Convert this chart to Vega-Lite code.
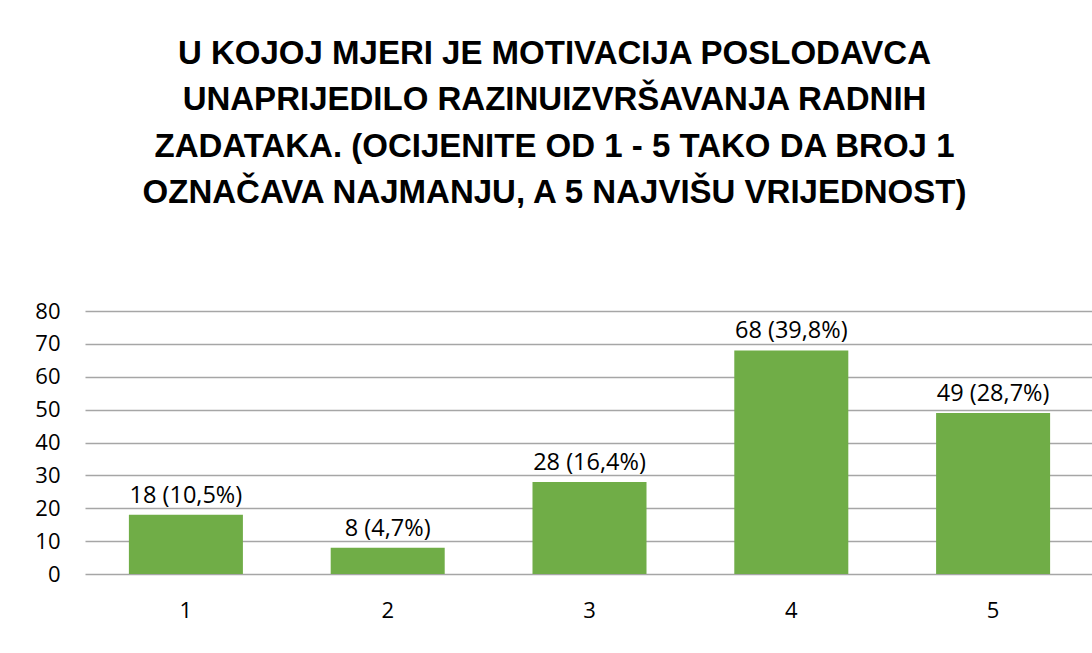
{
  "$schema": "https://vega.github.io/schema/vega-lite/v6.json",
  "autosize": {"type": "none"},
  "padding": {"left": 85, "top": 311, "right": 0, "bottom": 79},
  "width": 1009,
  "height": 263,
  "background": "white",
  "title": {
    "text": ["U KOJOJ MJERI JE MOTIVACIJA POSLODAVCA", "UNAPRIJEDILO RAZINUIZVRŠAVANJA RADNIH", "ZADATAKA. (OCIJENITE OD 1 - 5 TAKO DA BROJ 1", "OZNAČAVA NAJMANJU, A 5 NAJVIŠU VRIJEDNOST)"],
    "anchor": "middle",
    "frame": "group",
    "dx": -35,
    "offset": 90,
    "font": "Liberation Sans",
    "fontSize": 33,
    "fontWeight": "bold",
    "lineHeight": 46.5,
    "color": "#000000"
  },
  "data": {
    "values": [
      {"ocjena": "1", "broj": 18, "oznaka": "18 (10,5%)"},
      {"ocjena": "2", "broj": 8, "oznaka": "8 (4,7%)"},
      {"ocjena": "3", "broj": 28, "oznaka": "28 (16,4%)"},
      {"ocjena": "4", "broj": 68, "oznaka": "68 (39,8%)"},
      {"ocjena": "5", "broj": 49, "oznaka": "49 (28,7%)"}
    ]
  },
  "encoding": {
    "x": {
      "field": "ocjena",
      "type": "ordinal",
      "scale": {"paddingInner": 0.435, "paddingOuter": 0.2175},
      "axis": {
        "title": null,
        "labelAngle": 0,
        "labelFont": "Open Sans",
        "labelFontSize": 22,
        "labelColor": "#000000",
        "labelPadding": 26,
        "ticks": false,
        "domain": false
      }
    },
    "y": {
      "field": "broj",
      "type": "quantitative",
      "scale": {"domain": [0, 80]},
      "axis": {
        "title": null,
        "values": [0, 10, 20, 30, 40, 50, 60, 70, 80],
        "labelFont": "Open Sans",
        "labelFontSize": 22,
        "labelColor": "#000000",
        "labelPadding": 25,
        "ticks": false,
        "domain": false,
        "grid": true,
        "gridColor": "#a6a6a6",
        "gridWidth": 1.3
      }
    }
  },
  "layer": [
    {"mark": {"type": "bar", "color": "#70ad47"}},
    {
      "mark": {"type": "text", "baseline": "bottom", "dy": -7, "font": "Open Sans", "fontSize": 23.5, "color": "#000000"},
      "encoding": {"text": {"field": "oznaka"}}
    }
  ],
  "config": {"view": {"stroke": null}}
}
